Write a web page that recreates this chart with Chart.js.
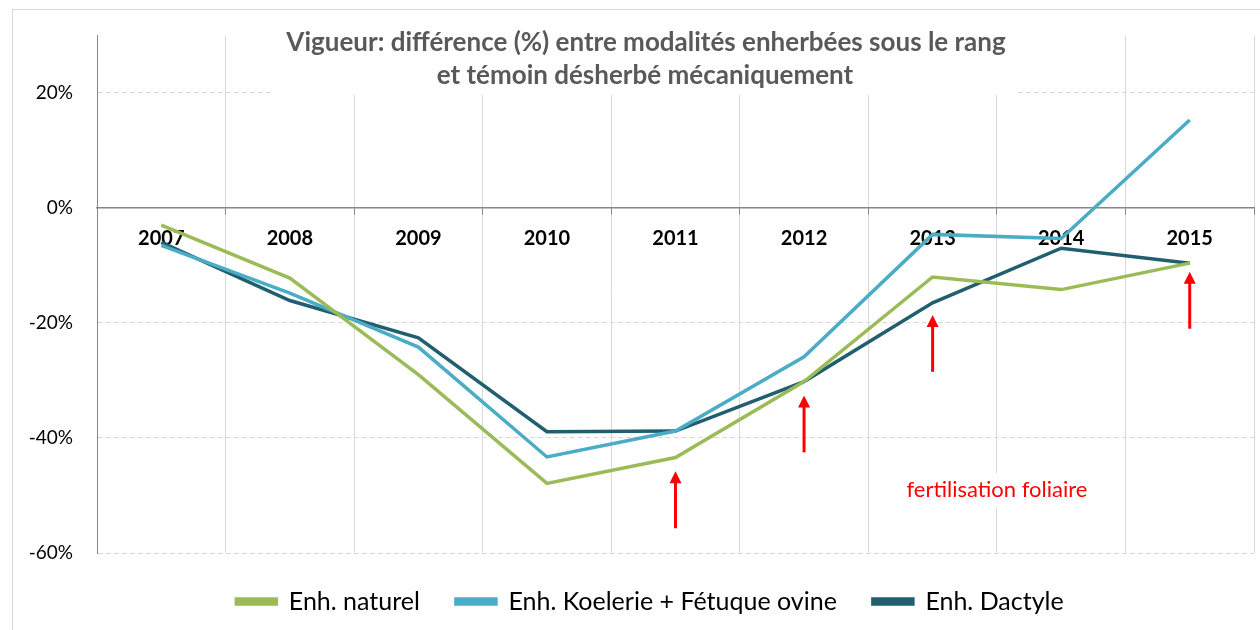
<!DOCTYPE html>
<html>
<head>
<meta charset="utf-8">
<title>Vigueur</title>
<script src="https://cdn.jsdelivr.net/npm/chart.js@4.4.1/dist/chart.umd.min.js"></script>
<style>
    html, body { margin: 0; padding: 0; background: #fff; }
    #wrap { width: 1260px; height: 630px; position: relative; }
</style>
</head>
<body>
<div id="wrap"><canvas id="vigueurChart" width="1260" height="630"></canvas></div>

<script>
/* ==========================================
   Data
========================================== */

const years = ["2007", "2008", "2009", "2010", "2011", "2012", "2013", "2014", "2015"];

const naturel = [-3.0, -12.2, -29.0, -47.9, -43.4, -30.2, -12.0, -14.2, -9.6];
const koelerie = [-6.5, -14.8, -24.2, -43.3, -38.8, -25.9, -4.6, -5.3, 15.3];
const dactyle = [-6.0, -16.1, -22.6, -38.9, -38.8, -30.2, -16.5, -7.0, -9.6];

const seriesNames = ["Enh. naturel", "Enh. Koelerie + Fétuque ovine", "Enh. Dactyle"];

const yTicks = [-60, -40, -20, 0, 20];

const titleLines = [
    "Vigueur: différence (%) entre modalités enherbées sous le rang",
    "et témoin désherbé mécaniquement"
];

/* arrows: year, value at the tail, value at the head */
const arrowYears = ["2011", "2012", "2013", "2015"];
const arrowFrom = [-55.7, -42.5, -28.5, -21.0];
const arrowTo = [-45.8, -32.6, -18.6, -11.1];

const noteText = "fertilisation foliaire";
const noteBetween = ["2013", "2014"];
const noteValue = -49.1;

/* ==========================================
   Plugins
========================================== */

const frame = {
    id: "frame",
    beforeDraw(chart) {
        const c = chart.ctx;
        c.save();
        c.fillStyle = "#fff";
        c.fillRect(0, 0, chart.width, chart.height);
        c.strokeStyle = "#D9D9D9";
        c.lineWidth = 1;
        c.strokeRect(12.5, 9.5, 1400, 800);
        c.restore();
    }
};

/* legend sits a bit right of the canvas centre */
const legendShift = {
    id: "legendShift",
    afterLayout(chart) {
        if (chart.legend) {
            chart.legend.left += 34;
        }
    }
};

const titleBox = {
    id: "titleBox",
    beforeDatasetsDraw(chart) {
        const c = chart.ctx;
        c.save();
        c.fillStyle = "#fff";
        c.fillRect(273, 10, 742, 85);
        c.fillStyle = "#595959";
        c.font = "bold 26px Lato";
        c.textAlign = "center";
        c.textBaseline = "middle";
        c.fillText(titleLines[0], 646, 43);
        c.fillText(titleLines[1], 645, 76);
        c.restore();
    }
};

const notes = {
    id: "notes",
    afterDatasetsDraw(chart) {
        const c = chart.ctx;
        const x = chart.scales.x;
        const y = chart.scales.y;

        c.save();
        c.strokeStyle = "#FF0000";
        c.fillStyle = "#FF0000";

        arrowYears.forEach((yr, i) => {
            const px = x.getPixelForValue(years.indexOf(yr));
            const y0 = y.getPixelForValue(arrowFrom[i]);
            const y1 = y.getPixelForValue(arrowTo[i]);
            c.lineWidth = 3;
            c.beginPath();
            c.moveTo(px, y0);
            c.lineTo(px, y1 + 10);
            c.stroke();
            c.beginPath();
            c.moveTo(px, y1);
            c.lineTo(px - 6, y1 + 12);
            c.lineTo(px + 6, y1 + 12);
            c.closePath();
            c.fill();
        });

        const nx = (x.getPixelForValue(years.indexOf(noteBetween[0])) +
                    x.getPixelForValue(years.indexOf(noteBetween[1]))) / 2;
        const ny = y.getPixelForValue(noteValue);

        c.font = "22px Lato";
        c.textAlign = "center";
        c.textBaseline = "middle";
        const w = c.measureText(noteText).width;
        c.fillStyle = "#fff";
        c.fillRect(nx - w / 2 - 2, ny - 17, w + 4, 34);
        c.fillStyle = "#FF0000";
        c.fillText(noteText, nx, ny);
        c.restore();
    }
};

/* ==========================================
   Chart
========================================== */

document.addEventListener("DOMContentLoaded", () => {

    const colors = ["#9BBB59", "#4BACC6", "#215F70"];
    const values = [naturel, koelerie, dactyle];

    new Chart(document.getElementById("vigueurChart"), {

        type: "line",

        data: {
            labels: years,
            datasets: values.map((v, i) => ({
                label: seriesNames[i],
                data: v,
                borderColor: colors[i],
                backgroundColor: colors[i],
                borderWidth: 3.5,
                pointRadius: 0,
                tension: 0,
                fill: false
            }))
        },

        options: {
            responsive: false,
            animation: false,
            layout: {
                padding: { left: 12, right: 6, top: 33, bottom: 6 }
            },
            plugins: {
                title: { display: false },
                tooltip: { enabled: false },
                legend: {
                    position: "bottom",
                    labels: {
                        boxWidth: 40,
                        boxHeight: 5,
                        padding: 36,
                        color: "#000",
                        font: { family: "Lato", size: 25 }
                    }
                }
            },
            scales: {
                x: {
                    type: "category",
                    position: { y: 0 },
                    offset: true,
                    grid: {
                        offset: true,
                        color: "#D9D9D9",
                        lineWidth: 1,
                        tickColor: "#868686",
                        tickLength: 6
                    },
                    border: { color: "#868686", width: 1.5 },
                    ticks: {
                        color: "#000",
                        padding: 13,
                        maxRotation: 0,
                        font: { family: "Lato", size: 20, weight: "bold" }
                    }
                },
                y: {
                    min: -60,
                    max: 30,
                    afterBuildTicks: scale => {
                        scale.ticks = scale.ticks.filter(t => yTicks.includes(t.value));
                    },
                    afterFit: scale => {
                        scale.width = 85;
                    },
                    grid: {
                        drawTicks: false,
                        color: ctx => ctx.tick && ctx.tick.value === 0 ? "rgba(0,0,0,0)" : "#D9D9D9",
                        lineWidth: 1
                    },
                    border: { color: "#868686", width: 1, dash: [5, 3] },
                    ticks: {
                        stepSize: 20,
                        color: "#000",
                        padding: 24,
                        font: { family: "Lato", size: 19 },
                        callback: function (value) {
                            return Math.round(value) + "%";
                        }
                    }
                }
            }
        },

        plugins: [frame, legendShift, titleBox, notes]

    });

});
</script>
</body>
</html>
